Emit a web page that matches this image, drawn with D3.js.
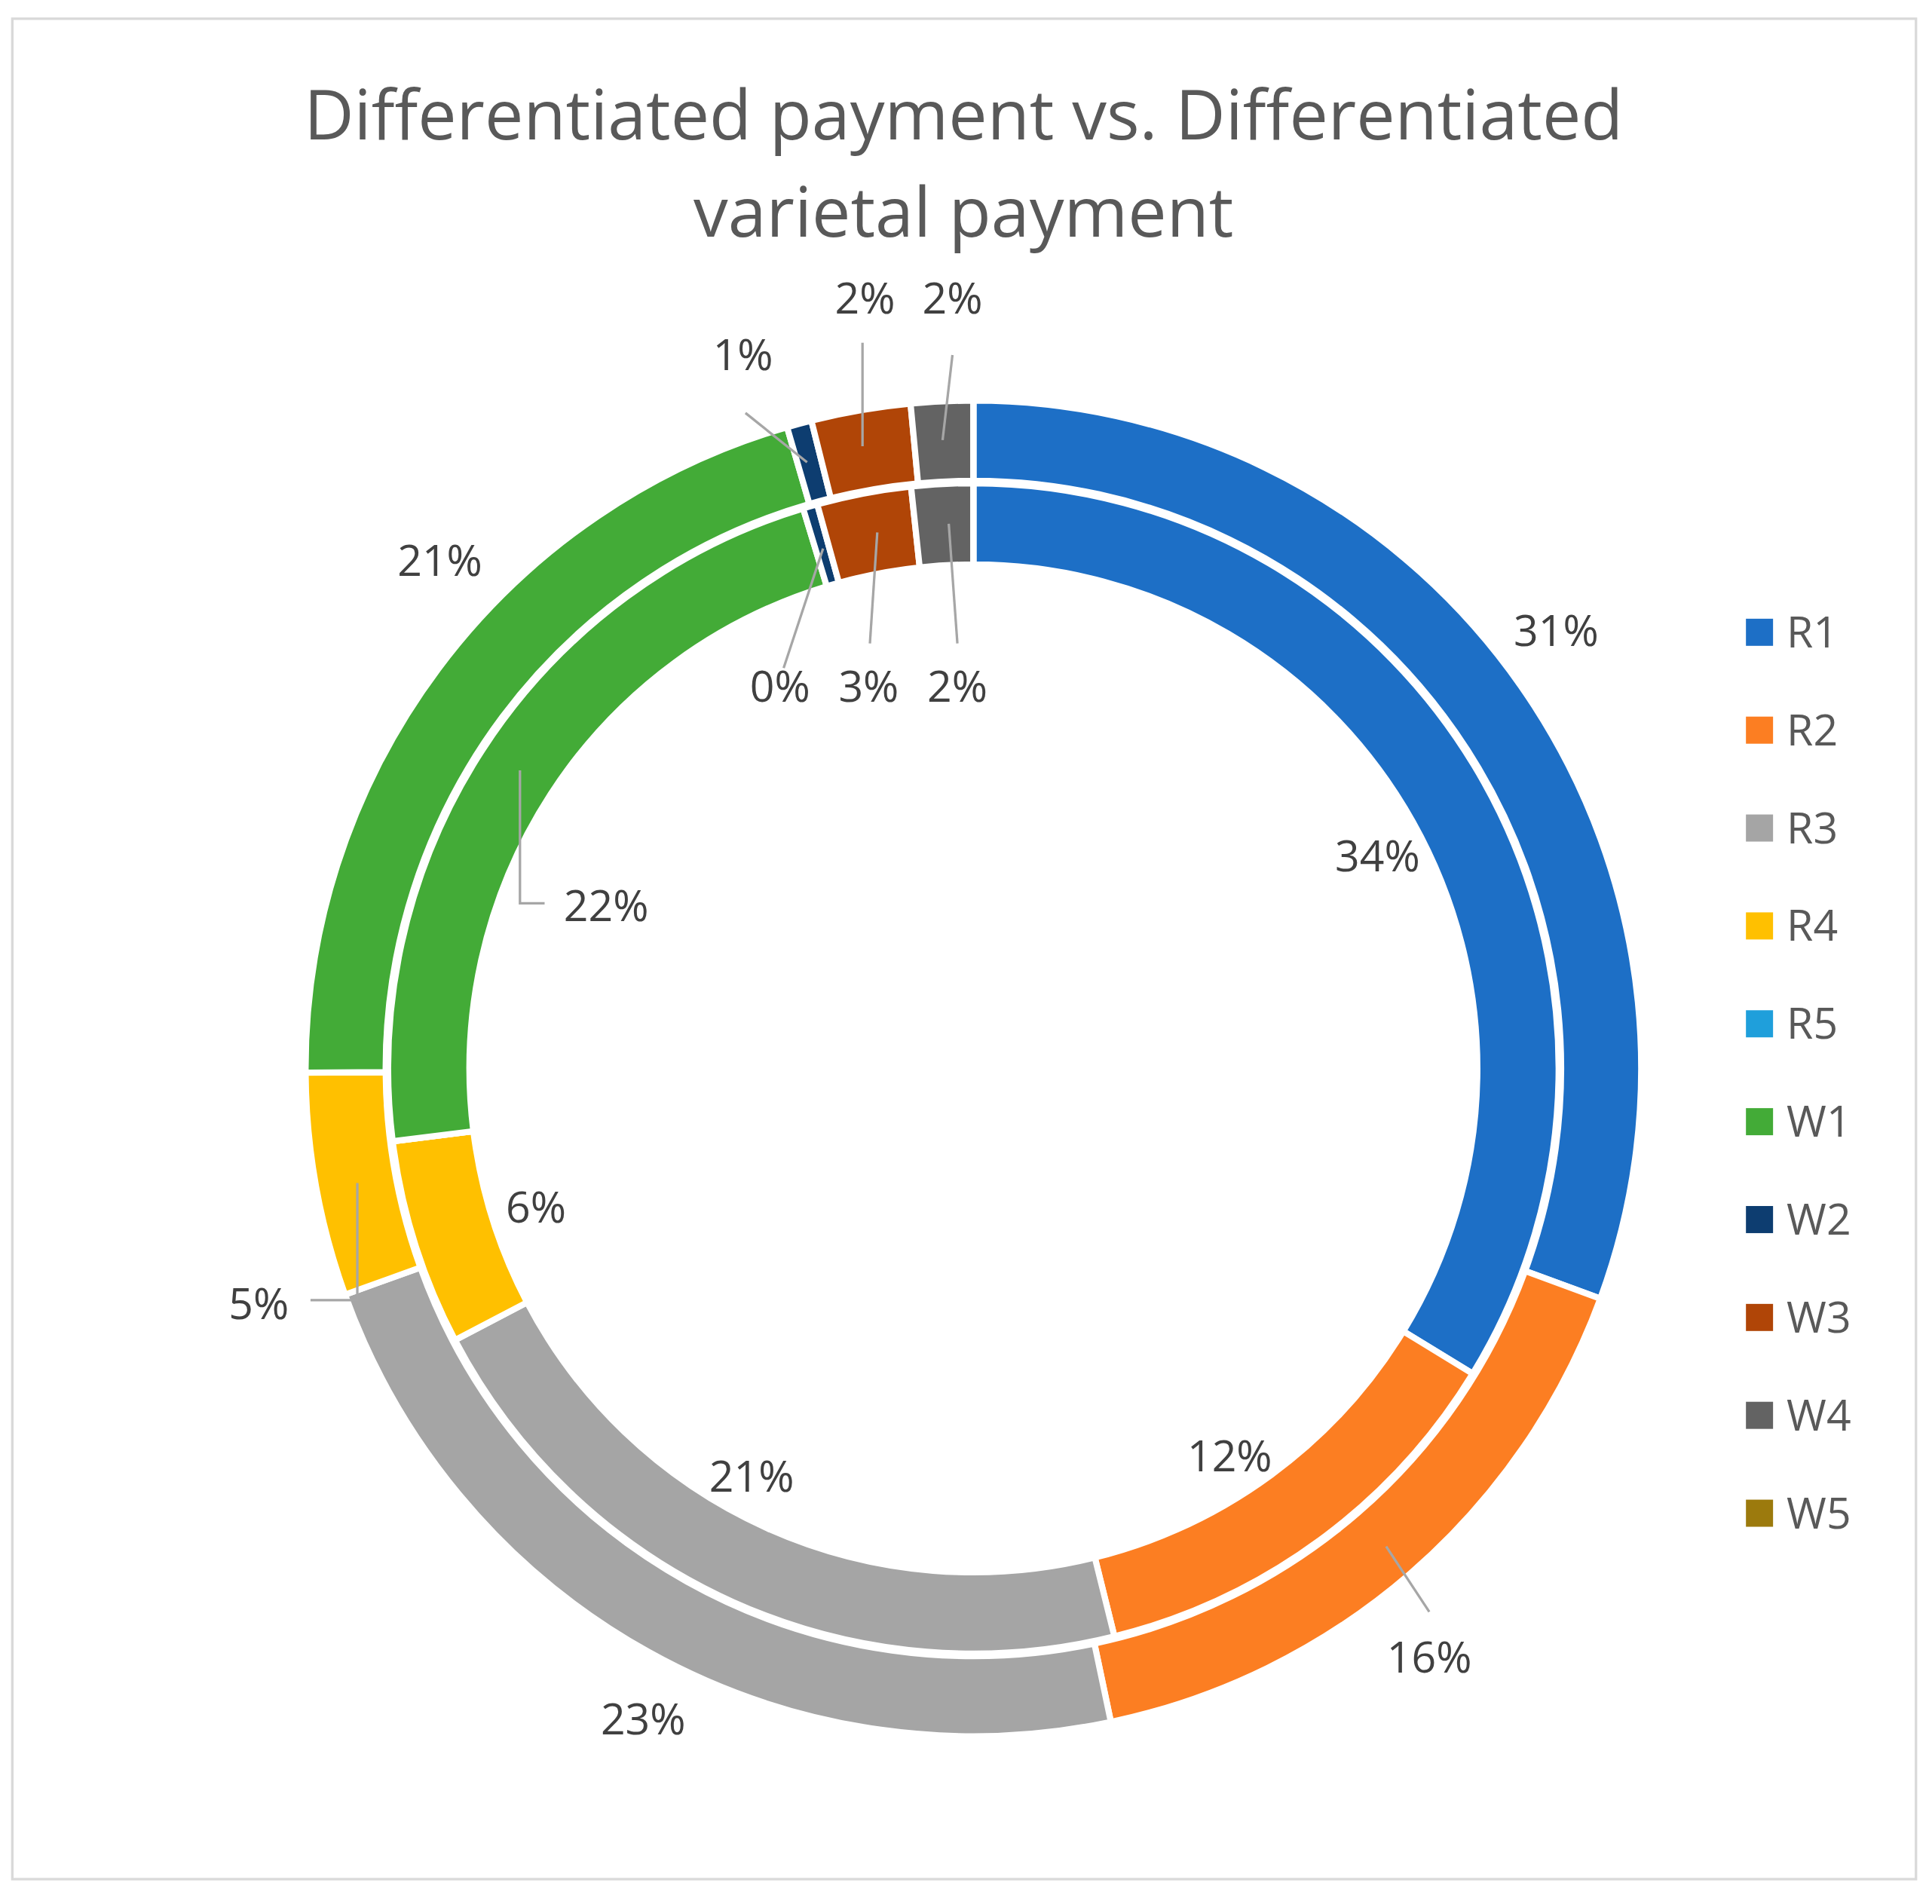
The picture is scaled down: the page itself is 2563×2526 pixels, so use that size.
<!DOCTYPE html>
<html><head><meta charset="utf-8">
<script src="https://cdn.jsdelivr.net/npm/d3@7"></script>
<style>body{margin:0;background:#fff}</style></head>
<body><svg id="c" width="2563" height="2526" viewBox="0 0 1568 1545"></svg>
<script>
const categories = ["R1","R2","R3","R4","R5","W1","W2","W3","W4","W5"];
const outerValues = [30.6,16.1,22.8,5.4,0,20.6,0.6,2.4,1.5,0];
const innerValues = [33.75,12.4,21.2,5.7,0,22.3,0.4,2.6,1.7,0];
const colors = ["#1d6fc6","#fc7e22","#a5a5a5","#ffc000","#1f9fdb","#43ab37","#0d3d70","#b04507","#636363","#9c7a0d"];
// label placements (layout only)
const outerLabelPos = [[1263,512],[1160,1345],[522,1395],[210,1058],null,[357,455],[603,288],[702,242],[773,242],null];
const outerLeaders = [null,[[1125,1255],[1160,1308]],null,[[290,960],[290,1055],[252,1055]],null,null,[[605,335],[655,375]],[[700,278],[700,362]],[[773,288],[765,357]],null];
const innerLabelPos = [[1118,695],[998,1182],[610,1198],[435,980],null,[492,735],[633,557],[705,557],[777,557],null];
const innerLeaders = [null,null,null,null,null,[[422,625],[422,733],[442,733]],[[636,542],[668,445]],[[706,522],[712,432]],[[777,522],[770,425]],null];

const svg = d3.select("#c");
svg.append("rect").attr("x",10).attr("y",15).attr("width",1545).attr("height",1510).attr("fill","#fff").attr("stroke","#d9d9d9").attr("stroke-width",2);
svg.append("text").attr("x",782).attr("y",113).attr("text-anchor","middle").attr("font-family","Open Sans, sans-serif").attr("font-size",56).attr("fill","#595959").text("Differentiated payment vs. Differentiated");
svg.append("text").attr("x",782).attr("y",192).attr("text-anchor","middle").attr("font-family","Open Sans, sans-serif").attr("font-size",56).attr("fill","#595959").text("varietal payment");

const cx=790, cy=867;
const g = svg.append("g").attr("transform",`translate(${cx},${cy})`);
const pie = d3.pie().sort(null).value(d=>d);
function ring(vals, r0, r1){
  const arc = d3.arc().innerRadius(r0).outerRadius(r1);
  g.append("g").selectAll("path").data(pie(vals)).join("path")
    .attr("d",arc).attr("fill",(d,i)=>colors[i]).attr("stroke","#fff").attr("stroke-width",5);
}
ring(outerValues, 477, 542);
ring(innerValues, 409, 475);

function labels(vals, pos, leaders){
  vals.forEach((v,i)=>{
    if(!pos[i]) return;
    if(leaders[i]) svg.append("path").attr("d",d3.line()(leaders[i])).attr("fill","none").attr("stroke","#a6a6a6").attr("stroke-width",2);
    svg.append("text").attr("x",pos[i][0]).attr("y",pos[i][1]).attr("dy","0.35em").attr("text-anchor","middle")
      .attr("font-family","Open Sans, sans-serif").attr("font-size",35).attr("fill","#404040").text(Math.round(v)+"%");
  });
}
labels(outerValues, outerLabelPos, outerLeaders);
labels(innerValues, innerLabelPos, innerLeaders);

const legY = d3.scalePoint().domain(categories).range([513,1228]);
const lg = svg.append("g");
categories.forEach((c,i)=>{
  lg.append("rect").attr("x",1417).attr("y",legY(c)-11).attr("width",22).attr("height",22).attr("fill",colors[i]);
  lg.append("text").attr("x",1450).attr("y",legY(c)).attr("dy","0.35em").attr("font-family","Open Sans, sans-serif").attr("font-size",35).attr("fill","#595959").text(c);
});
</script></body></html>
